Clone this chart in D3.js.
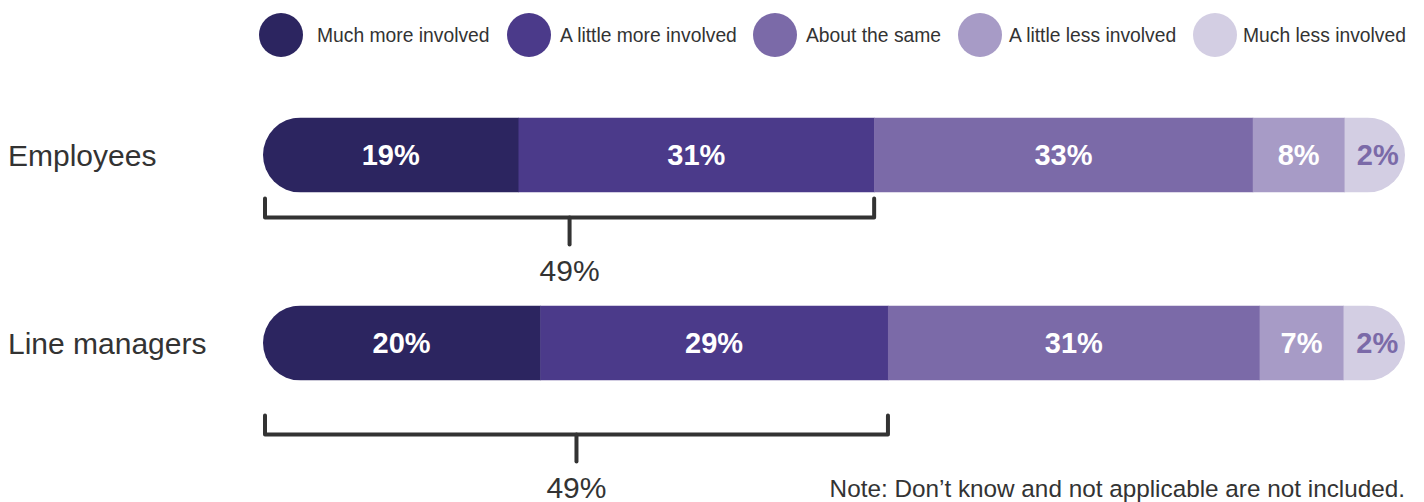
<!DOCTYPE html>
<html>
<head>
<meta charset="utf-8">
<script src="https://cdn.jsdelivr.net/npm/d3@7"></script>
<style>
  html, body { margin: 0; padding: 0; background: #fff; }
  svg { display: block; font-family: "Liberation Sans", Arial, Helvetica, sans-serif; }
</style>
</head>
<body>
<svg id="chart" width="1424" height="502"></svg>
<script>
// ---- data ----
const categories = ["Employees", "Line managers"];
const seriesNames = ["Much more involved", "A little more involved", "About the same", "A little less involved", "Much less involved"];
const employeesValues = [19, 31, 33, 8, 2];
const lineManagersValues = [20, 29, 31, 7, 2];
const moreInvolvedTotals = [49, 49];
const noteText = "Note: Don\u2019t know and not applicable are not included.";

// ---- style / layout ----
const colors = ["#2c2560", "#4b3a8a", "#7b6aa8", "#a79bc6", "#d3cee3"];
const labelColors = ["#ffffff", "#ffffff", "#ffffff", "#ffffff", "#7b6aa8"];
const legendLayout = { circleX: [281, 529, 775, 980, 1215], textX: [317, 560, 806, 1009, 1243] };
const bracketGap = { "Employees": 6, "Line managers": 35 };

const rows = [
  { name: categories[0], values: employeesValues, more: moreInvolvedTotals[0] },
  { name: categories[1], values: lineManagersValues, more: moreInvolvedTotals[1] }
];

const svg = d3.select("#chart");
const textColor = "#333333";

// ---- legend ----
const legend = svg.append("g");
seriesNames.forEach((s, i) => {
  legend.append("circle").attr("cx", legendLayout.circleX[i]).attr("cy", 35)
    .attr("r", 22).attr("fill", colors[i]);
  legend.append("text").attr("x", legendLayout.textX[i]).attr("y", 35).attr("dy", "0.35em")
    .attr("font-size", 19.3).attr("fill", textColor).text(s);
});

// ---- layout ----
const x0 = 263, x1 = 1405, barH = 75, r = barH / 2;
const y = d3.scalePoint().domain(categories).range([155, 343]);

rows.forEach((row, ri) => {
  const total = d3.sum(row.values);
  const xs = d3.scaleLinear().domain([0, total]).range([x0 + r, x1 - r]);
  const cum = [0];
  row.values.forEach(v => cum.push(cum[cum.length - 1] + v));
  const cy = y(row.name);
  const top = cy - barH / 2;

  // category label
  svg.append("text").attr("x", 8).attr("y", cy).attr("dy", "0.35em")
    .attr("font-size", 30).attr("fill", textColor).text(row.name);

  const clipId = "clip" + ri;
  svg.append("clipPath").attr("id", clipId)
    .append("rect").attr("x", x0).attr("y", top).attr("width", x1 - x0).attr("height", barH)
    .attr("rx", r).attr("ry", r);

  const segs = row.values.map((v, i) => ({
    v, i,
    a: i === 0 ? x0 : xs(cum[i]),
    b: i === row.values.length - 1 ? x1 : xs(cum[i + 1])
  }));

  const g = svg.append("g");
  g.append("g").attr("clip-path", `url(#${clipId})`)
    .selectAll("rect").data(segs).join("rect")
    .attr("x", d => d.a).attr("y", top)
    .attr("width", d => d.b - d.a + (d.i < segs.length - 1 ? 0.5 : 0))
    .attr("height", barH)
    .attr("fill", d => colors[d.i]);

  g.selectAll("text").data(segs).join("text")
    .attr("x", d => (d.a + d.b) / 2 + (d.i === segs.length - 1 ? 3 : 0))
    .attr("y", cy).attr("dy", "0.36em")
    .attr("text-anchor", "middle")
    .attr("font-size", 29).attr("font-weight", "bold")
    .attr("fill", d => labelColors[d.i])
    .text(d => d.v + "%");

  // bracket
  const bl = x0 + 2, br = xs(cum[2]);
  const bTop = top + barH + bracketGap[row.name], bY = bTop + 19, mid = (bl + br) / 2;
  const bracket = svg.append("g").attr("stroke", "#333").attr("stroke-width", 4)
    .attr("fill", "none").attr("stroke-linecap", "round").attr("stroke-linejoin", "round");
  bracket.append("path").attr("d", `M${bl},${bTop}V${bY}H${br}V${bTop}`);
  bracket.append("path").attr("d", `M${mid},${bY}V${bY + 27}`);
  svg.append("text").attr("x", mid).attr("y", bY + 63)
    .attr("text-anchor", "middle").attr("font-size", 30).attr("fill", textColor)
    .text(row.more + "%");
});

// ---- note ----
svg.append("text").attr("x", 1405).attr("y", 497).attr("text-anchor", "end")
  .attr("font-size", 24.3).attr("fill", textColor).text(noteText);
</script>
</body>
</html>
